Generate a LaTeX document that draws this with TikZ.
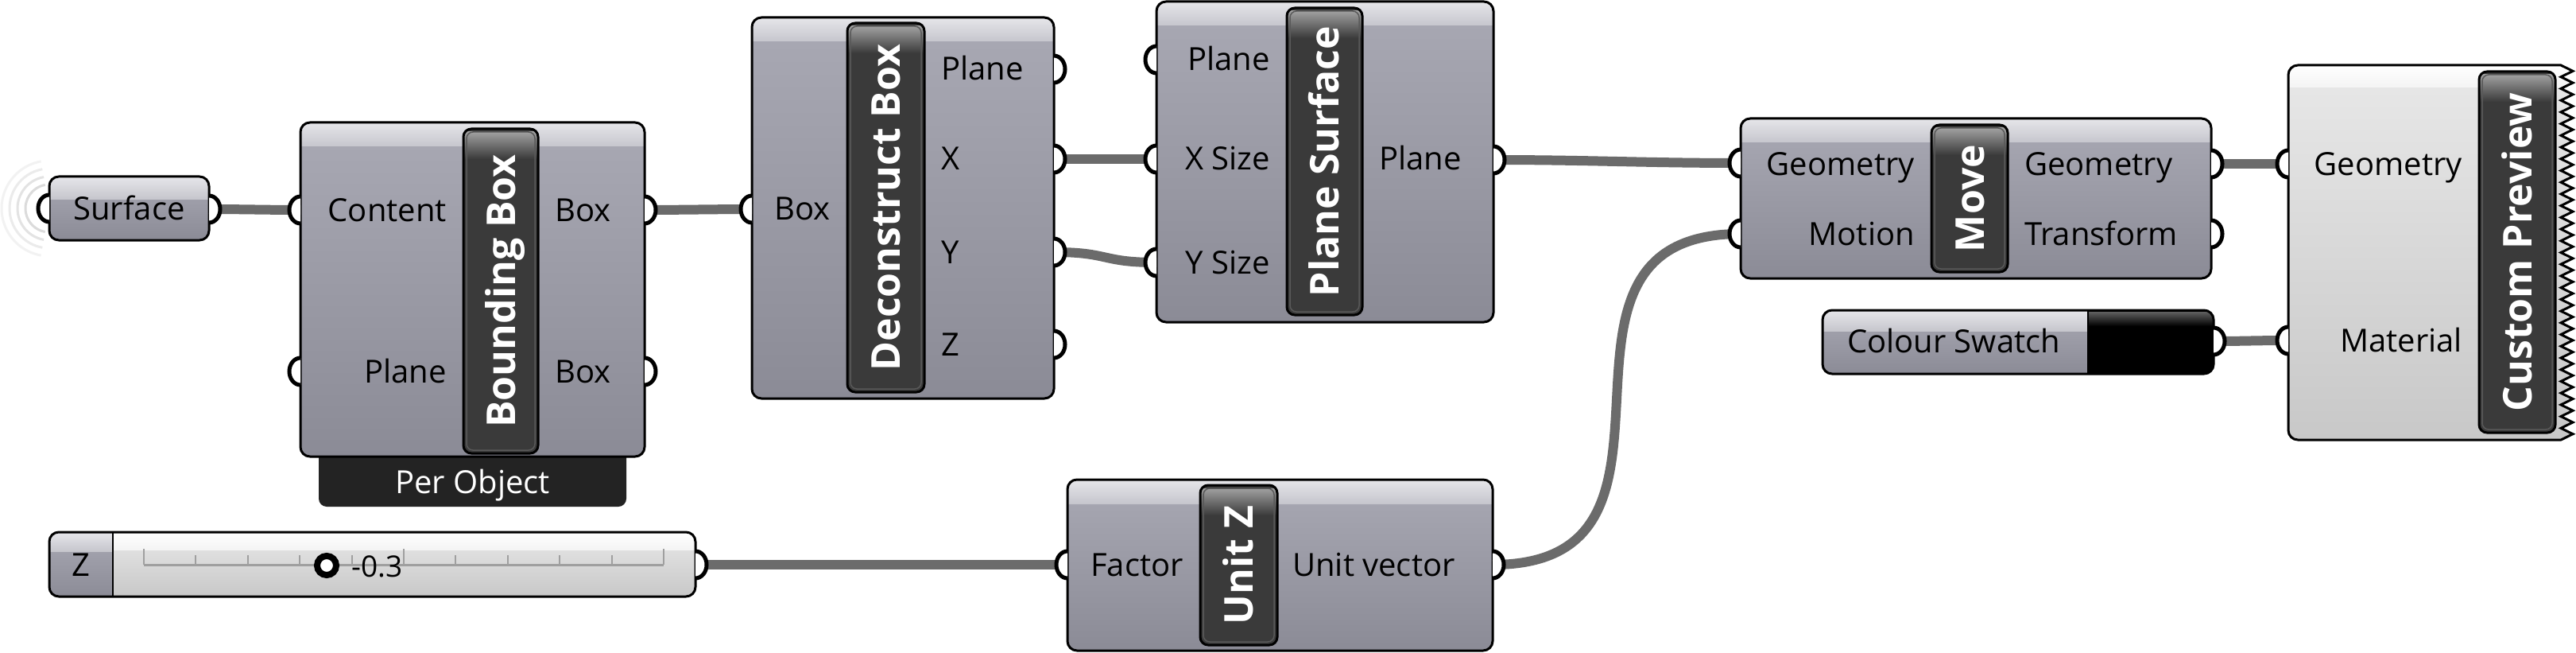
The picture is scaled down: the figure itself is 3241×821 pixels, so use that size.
\documentclass[tikz,border=0pt]{standalone}
\usepackage{fontspec}
\setmainfont{Open Sans}
\definecolor{wirec}{HTML}{6B6B6B}
\definecolor{bodytop}{HTML}{A9A9B4}
\definecolor{bodybot}{HTML}{8B8B96}
\definecolor{bandtop}{HTML}{E6E6EA}
\definecolor{bandbot}{HTML}{C6C6CD}
\definecolor{titlec}{HTML}{3A3A3A}
\definecolor{titlehi}{HTML}{A0A0A0}
\definecolor{lighttop}{HTML}{E8E8E8}
\definecolor{lightbot}{HTML}{C8C8C8}
\definecolor{lightband}{HTML}{F4F4F4}
\definecolor{tabc}{HTML}{232323}
\tikzset{
  ghbody/.style={rectangle, rounded corners=12pt, top color=bodytop, bottom color=bodybot, inner sep=0pt, outer sep=0pt},
  ghlight/.style={rectangle, rounded corners=12pt, top color=lighttop, bottom color=lightbot, inner sep=0pt, outer sep=0pt},
  band/.style={top color=bandtop, bottom color=bandbot},
  lband/.style={top color=white, bottom color=lightband},
  titlebar/.style={rectangle, rounded corners=10pt, fill=titlec, inner sep=0pt, outer sep=0pt},
  lbl/.style={font=\fontsize{40}{48}\selectfont, inner sep=0pt},
  ttl/.style={font=\bfseries\fontsize{50}{60}\selectfont, text=white, rotate=90, inner sep=0pt, text height=36pt, text depth=0pt},
  wire/.style={draw=wirec, line width=12pt},
  port/.style={draw=black, fill=white, line width=5pt},
  outline/.style={draw=black, line width=3pt},
}
\newcommand{\ghbase}[8]{%
  \node[#6, minimum width={(#4-#2)*1pt}, minimum height={(#5-#3)*1pt}] (#1) at ({(#2+#4)/2},{(#3+#5)/2}) {};
  \begin{scope}
    \clip[rounded corners=12pt] (#1.north west) rectangle (#1.south east);
    \shade[#8] (#1.north west) rectangle ([yshift=-#7pt]#1.north east);
  \end{scope}}
\newcommand{\ghborder}[1]{\draw[outline, rounded corners=12pt] (#1.north west) rectangle (#1.south east);}
\newcommand{\ghtitle}[6]{%
  \node[titlebar, minimum width={(#4-#2)*1pt}, minimum height={(#5-#3)*1pt}] (#1) at ({(#2+#4)/2},{(#3+#5)/2}) {};
  \begin{scope}
    \clip[rounded corners=10pt] (#1.north west) rectangle (#1.south east);
    \shade[top color=titlehi, bottom color=titlec] ([yshift=-4pt]#1.north west) rectangle ([yshift=-38pt]#1.north east);
  \end{scope}
  \draw[draw=gray!70!black, line width=1.5pt, rounded corners=8pt] ([shift={(4pt,-4pt)}]#1.north west) rectangle ([shift={(-4pt,4pt)}]#1.south east);
  \draw[outline, rounded corners=10pt] (#1.north west) rectangle (#1.south east);
  \node[ttl] (#1-txt) at (#1.center) {#6};}
\newcommand{\pin}[1]{\filldraw[port] ([yshift=17pt]#1) arc[start angle=90, end angle=270, x radius=14pt, y radius=17pt];}
\newcommand{\pout}[1]{\filldraw[port] ([yshift=17pt]#1) arc[start angle=90, end angle=-90, x radius=14pt, y radius=17pt];}
\newcommand{\wire}[3]{\draw[wire] (#1) .. controls +(#3,0) and +(-#3,0) .. (#2);}
\def\cpedge{(2879,94) arc[start angle=180, end angle=90, radius=12pt] -- (3222,82) \foreach \i in {0,...,31}{ -- (3237,{82+(\i+0.5)*14.72}) -- (3222,{82+(\i+1)*14.72}) } -- (2891,553) arc[start angle=270, end angle=180, radius=12pt] -- cycle}
\begin{document}
\begin{tikzpicture}[x=1pt,y=-1pt]
\useasboundingbox[fill=white] (0,0) rectangle (3241,821);

% ---- port coordinates ----
\coordinate (surf-in) at (62,262);
\coordinate (surf-out) at (263,263);
\coordinate (bb-in1) at (378,264);
\coordinate (bb-in2) at (378,467);
\coordinate (bb-out1) at (811,264);
\coordinate (bb-out2) at (811,467);
\coordinate (db-in) at (946,263);
\coordinate (db-o1) at (1326,87);
\coordinate (db-o2) at (1326,200);
\coordinate (db-o3) at (1326,317);
\coordinate (db-o4) at (1326,433);
\coordinate (ps-i1) at (1455,75);
\coordinate (ps-i2) at (1455,200);
\coordinate (ps-i3) at (1455,330);
\coordinate (ps-out) at (1879,201);
\coordinate (mv-i1) at (2190,205);
\coordinate (mv-i2) at (2190,294);
\coordinate (mv-o1) at (2782,206);
\coordinate (mv-o2) at (2782,294);
\coordinate (cp-i1) at (2879,206);
\coordinate (cp-i2) at (2879,428);
\coordinate (cs-out) at (2785,429);
\coordinate (sl-out) at (875,710);
\coordinate (uz-in) at (1343,710);
\coordinate (uz-out) at (1878,710);

% ---- Surface param with rings ----
\foreach \r/\c in {30/28,40/22,50/16,60/10}
  \draw[gray!\c, line width=3pt] ([shift={(100:\r pt)}]surf-in) arc[start angle=100, end angle=260, radius=\r pt];
\ghbase{surf}{62}{222}{263}{302}{ghbody}{28}{band}
\ghborder{surf}
\node[lbl, anchor=base] (surf-txt) at (162.5,276) {Surface};

% ---- Bounding Box ----
\node[rectangle, rounded corners=10pt, fill=tabc, minimum width=387pt, minimum height=80pt, inner sep=0pt] (perobj) at (594.5,597) {};
\node[lbl, anchor=base, text=white] (perobj-txt) at (594.5,620) {Per Object};
\ghbase{bb}{378}{154}{811}{574}{ghbody}{30}{band}
\ghborder{bb}
\ghtitle{bbt}{583}{162}{677}{570}{Bounding Box}
\node[lbl, anchor=base east] (bb-l1) at (562,278) {Content};
\node[lbl, anchor=base east] (bb-l2) at (562,481) {Plane};
\node[lbl, anchor=base west] (bb-r1) at (698,278) {Box};
\node[lbl, anchor=base west] (bb-r2) at (698,481) {Box};

% ---- Deconstruct Box ----
\ghbase{db}{946}{22}{1326}{501}{ghbody}{30}{band}
\ghborder{db}
\ghtitle{dbt}{1066}{29}{1163}{493}{Deconstruct Box}
\node[lbl, anchor=base east] (db-l1) at (1045,276) {Box};
\node[lbl, anchor=base west] (db-r1) at (1184,101) {Plane};
\node[lbl, anchor=base west] (db-r2) at (1184,214) {X};
\node[lbl, anchor=base west] (db-r3) at (1184,331) {Y};
\node[lbl, anchor=base west] (db-r4) at (1184,447) {Z};

% ---- Plane Surface ----
\ghbase{ps}{1455}{2}{1879}{405}{ghbody}{30}{band}
\ghborder{ps}
\ghtitle{pst}{1619}{10}{1714}{396}{Plane Surface}
\node[lbl, anchor=base east] (ps-l1) at (1598,89) {Plane};
\node[lbl, anchor=base east] (ps-l2) at (1598,214) {X Size};
\node[lbl, anchor=base east] (ps-l3) at (1598,344) {Y Size};
\node[lbl, anchor=base west] (ps-r1) at (1735,214) {Plane};

% ---- Move ----
\ghbase{mv}{2190}{149}{2782}{350}{ghbody}{30}{band}
\ghborder{mv}
\ghtitle{mvt}{2430}{157}{2526}{342}{Move}
\node[lbl, anchor=base east] (mv-l1) at (2409,220) {Geometry};
\node[lbl, anchor=base east] (mv-l2) at (2409,308) {Motion};
\node[lbl, anchor=base west] (mv-r1) at (2547,220) {Geometry};
\node[lbl, anchor=base west] (mv-r2) at (2547,308) {Transform};

% ---- Custom Preview ----
\node[inner sep=0pt, minimum width=343pt, minimum height=471pt] (cp) at (3050.5,317.5) {};
\shade[top color=lighttop, bottom color=lightbot] \cpedge;
\begin{scope}
  \clip \cpedge;
  \shade[lband] (2870,80) rectangle (3250,110);
\end{scope}
\draw[outline, line join=miter] \cpedge;
\ghtitle{cpt}{3119}{90}{3215}{544}{Custom Preview}
\node[lbl, anchor=base east] (cp-l1) at (3098,220) {Geometry};
\node[lbl, anchor=base east] (cp-l2) at (3098,442) {Material};

% ---- Colour Swatch ----
\ghbase{cs}{2293}{390}{2785}{470}{ghbody}{26}{band}
\begin{scope}
  \clip[rounded corners=12pt] (cs.north west) rectangle (cs.south east);
  \fill[black] (2627,390) rectangle (2790,470);
  \shade[top color=gray!75!black, bottom color=black] (2627,392) rectangle (2790,410);
\end{scope}
\draw[line width=2pt] (2627,390) -- (2627,470);
\ghborder{cs}
\node[lbl, anchor=base] (cs-txt) at (2458,443) {Colour Swatch};

% ---- Number slider ----
\ghbase{sl}{62}{669}{875}{750}{ghlight}{22}{lband}
\begin{scope}
  \clip[rounded corners=12pt] (sl.north west) rectangle (sl.south east);
  \shade[top color=bodytop, bottom color=bodybot] (60,669) rectangle (142,752);
  \shade[band] (60,669) rectangle (142,693);
\end{scope}
\draw[line width=2pt] (142,669) -- (142,750);
\ghborder{sl}
\node[lbl, anchor=base] (sl-z) at (102,724) {Z};
\draw[gray!75, line width=3pt] (181,710) -- (835,710);
\foreach \i in {0,...,10} {
  \pgfmathsetmacro{\tx}{181+\i*65.4}
  \ifnum\i=0 \draw[gray!75, line width=2pt] (\tx,690) -- (\tx,710);
  \else\ifnum\i=10 \draw[gray!75, line width=2pt] (\tx,690) -- (\tx,710);
  \else\ifnum\i=5 \draw[gray!75, line width=2pt] (\tx,690) -- (\tx,710);
  \else \draw[gray!75, line width=2pt] (\tx,698) -- (\tx,710);
  \fi\fi\fi
}
\node[draw=black, fill=white, line width=8pt, circle, minimum size=24pt, inner sep=0pt] (knob) at (411,711) {};
\node[lbl, anchor=base west, font=\fontsize{37}{44}\selectfont] (sl-val) at (442,725) {-0.3};

% ---- Unit Z ----
\ghbase{uz}{1343}{603}{1878}{818}{ghbody}{30}{band}
\ghborder{uz}
\ghtitle{uzt}{1510}{610}{1607}{811}{Unit Z}
\node[lbl, anchor=base east] (uz-l1) at (1489,724) {Factor};
\node[lbl, anchor=base west] (uz-r1) at (1626,724) {Unit vector};

% ---- wires ----
\wire{surf-out}{bb-in1}{40}
\wire{bb-out1}{db-in}{40}
\wire{db-o2}{ps-i2}{40}
\wire{db-o3}{ps-i3}{70}
\wire{ps-out}{mv-i1}{120}
\wire{mv-o1}{cp-i1}{40}
\wire{cs-out}{cp-i2}{40}
\wire{sl-out}{uz-in}{150}
\wire{uz-out}{mv-i2}{290}

% ---- ports ----
\pin{surf-in} \pout{surf-out}
\pin{bb-in1} \pin{bb-in2} \pout{bb-out1} \pout{bb-out2}
\pin{db-in} \pout{db-o1} \pout{db-o2} \pout{db-o3} \pout{db-o4}
\pin{ps-i1} \pin{ps-i2} \pin{ps-i3} \pout{ps-out}
\pin{mv-i1} \pin{mv-i2} \pout{mv-o1} \pout{mv-o2}
\pin{cp-i1} \pin{cp-i2}
\pout{cs-out}
\pout{sl-out}
\pin{uz-in} \pout{uz-out}
\end{tikzpicture}
\end{document}
